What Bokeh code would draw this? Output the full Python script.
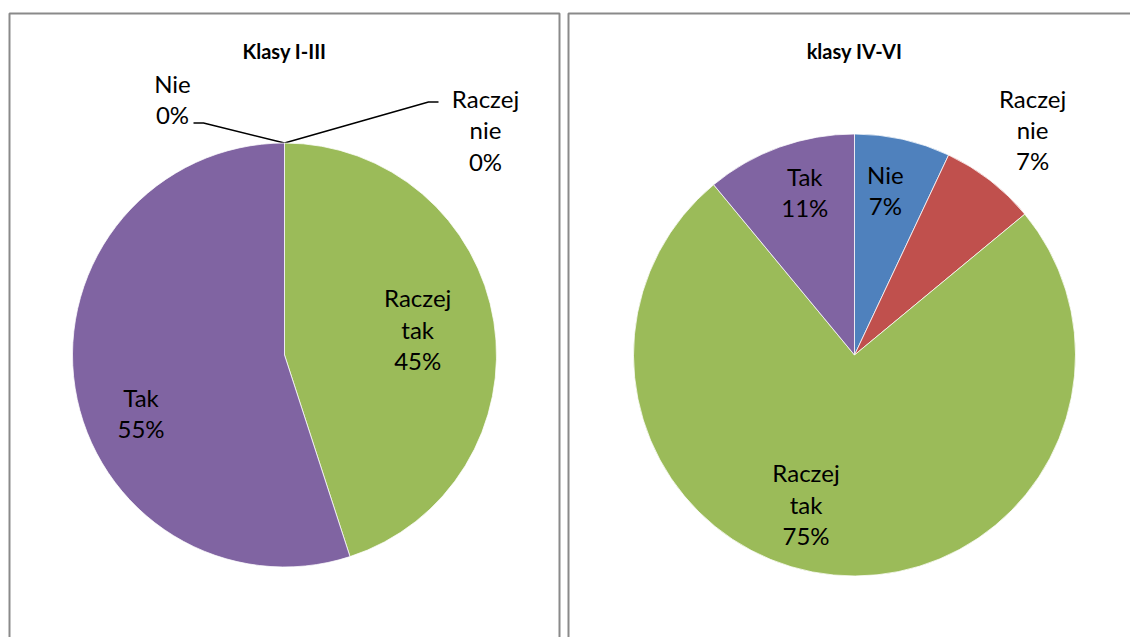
import math
from bokeh.plotting import figure
from bokeh.models import Range1d, ColumnDataSource
from bokeh.core.properties import value
from bokeh.embed import file_html
from bokeh.resources import INLINE

# ---------------- data ----------------
categories = ["Nie", "Raczej nie", "Raczej tak", "Tak"]
values_klasy_1_3 = [0, 0, 45, 55]
values_klasy_4_6 = [7, 7, 75, 11]
titles = ["Klasy I-III", "klasy IV-VI"]
colors = ["#4F81BD", "#C0504D", "#9BBB59", "#8064A2"]

# ---------------- layout / style (page pixels) ----------------
W, H = 1130, 637
FONT = "Lato"
LABEL_SIZE = "24px"
TITLE_SIZE = "20px"
BORDER = "#8a8a8a"


def Y(py):
    return 637 - py


p = figure(width=W, height=H, output_backend="svg", toolbar_location=None,
           x_range=Range1d(0, W), y_range=Range1d(0, H),
           min_border=0, outline_line_color=None, background_fill_color="white")
p.xaxis.visible = False
p.yaxis.visible = False
p.xgrid.visible = False
p.ygrid.visible = False

charts = [
    dict(values=values_klasy_1_3, title=titles[0], cx=284, cy=354.5, r=212,
         panel=(9, 559), nudge={"Raczej tak": (-2, 0.64), "Tak": (-13, 0.73)},
         zero={"Nie": dict(label=(-112, -44), leader=[(0, 0), (-81, -20), (-91, -20)]),
               "Raczej nie": dict(label=(201, -13), leader=[(0, 0), (144, -41), (154, -41)])}),
    dict(values=values_klasy_4_6, title=titles[1], cx=854, cy=354.5, r=221,
         panel=(568, 1160),
         nudge={"Nie": (-2, 0.76), "Raczej nie": (0.5, 1.30), "Raczej tak": (12.6, 0.71), "Tak": (2.8, 0.77)},
         zero={}),
]

for ch in charts:
    # panel border
    l, r_ = ch["panel"]
    p.line([l, l, r_, r_], [Y(660), Y(13), Y(13), Y(660)], line_color=BORDER, line_width=2)

    vals = ch["values"]
    total = float(sum(vals))
    cum = 0.0
    ws = dict(x=[], y=[], start=[], end=[], color=[])
    lab = dict(x=[], y=[], text=[])
    for cat, v, col in zip(categories, vals, colors):
        frac0 = cum / total
        cum += v
        frac1 = cum / total
        pct = f"{round(100 * v / total):d}%"
        text = cat.replace(" ", "\n") + "\n" + pct
        if v > 0:
            ws["x"].append(ch["cx"])
            ws["y"].append(Y(ch["cy"]))
            ws["start"].append(math.pi / 2 - 2 * math.pi * frac1)
            ws["end"].append(math.pi / 2 - 2 * math.pi * frac0)
            ws["color"].append(col)
            dang, rf = ch["nudge"][cat]
            mid = 360 * (frac0 + frac1) / 2 + dang
            a = math.radians(mid)
            lab["x"].append(ch["cx"] + rf * ch["r"] * math.sin(a))
            lab["y"].append(Y(ch["cy"] - rf * ch["r"] * math.cos(a)))
            lab["text"].append(text)
        else:
            a = 2 * math.pi * frac0
            ex = ch["cx"] + ch["r"] * math.sin(a)
            ey = ch["cy"] - ch["r"] * math.cos(a)
            z = ch["zero"][cat]
            p.line([ex + dx for dx, dy in z["leader"]], [Y(ey + dy) for dx, dy in z["leader"]],
                   line_color="black", line_width=1.5)
            lab["x"].append(ex + z["label"][0])
            lab["y"].append(Y(ey + z["label"][1]))
            lab["text"].append(text)

    p.wedge(x="x", y="y", radius=ch["r"], start_angle="start", end_angle="end",
            fill_color="color", line_color="white", line_width=0.75,
            source=ColumnDataSource(ws))
    p.text(x="x", y="y", text="text", source=ColumnDataSource(lab),
           text_font=value(FONT), text_font_size=LABEL_SIZE, text_color="black",
           text_align="center", text_baseline="middle", text_line_height=1.08)
    p.text(x=[ch["cx"]], y=[Y(50)], text=[ch["title"]], text_font=value(FONT),
           text_font_size=TITLE_SIZE, text_font_style="bold", text_color="black",
           text_align="center", text_baseline="middle")

open("out.html", "w").write(file_html(p, INLINE))
